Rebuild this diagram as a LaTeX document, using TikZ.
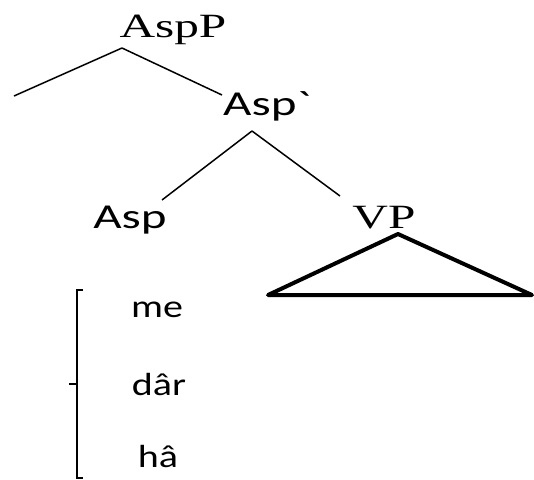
\documentclass[tikz,border=0pt]{standalone}
\usepackage{fontspec}
\newfontfamily\serifkat{Liberation Serif}
\newfontfamily\sanskat{Carlito}

\begin{document}
\begin{tikzpicture}[x=1pt,y=-1pt,
    kante/.style={line width=1.5pt},
    kat/.style={anchor=base,inner sep=0pt,xscale=1.45,font=\serifkat\fontsize{34}{34}\selectfont},
    skat/.style={anchor=base,inner sep=0pt,xscale=1.4,font=\sanskat\fontsize{35}{35}\selectfont},
    lex/.style={anchor=base,inner sep=0pt,xscale=1.25,font=\sanskat\fontsize{32}{32}\selectfont}]
    \useasboundingbox (0,0) rectangle (534,479);

    % Knoten des Baums
    \node[kat] (aspp) at (173,37) {AspP};
    \node[skat] (aspbar) at (267,115) {Asp\textasciigrave};
    \node[skat] (asp) at (130,228) {Asp};
    \node[kat] (vp) at (384,228) {VP};

    % Verzweigungspunkte und Blattenden
    \coordinate (k1) at (122,48);
    \coordinate (spec) at (14,96);
    \coordinate (k1r) at (222,95);
    \coordinate (k2) at (252,131);
    \coordinate (k2l) at (162,200);
    \coordinate (k2r) at (340,196);
    \draw[kante] (k1) -- (spec);
    \draw[kante] (k1) -- (k1r);
    \draw[kante] (k2) -- (k2l);
    \draw[kante] (k2) -- (k2r);

    % Dreieck unter VP
    \coordinate (d1) at (398,234);
    \coordinate (d2) at (268,295);
    \coordinate (d3) at (532,295);
    \draw[line width=4pt,line join=round] (d1) -- (d2) -- (d3) -- cycle;

    % Klammer mit den drei Formen
    \node[lex] (me) at (157,317) {me};
    \node[lex] (dar) at (159,395) {dâr};
    \node[lex] (ha) at (158,467) {hâ};
    \draw[kante] (83,290) -- (77,290) -- (77,478) -- (83,478);
    \draw[kante] (77,384) -- (69,384);

\end{tikzpicture}
\end{document}
